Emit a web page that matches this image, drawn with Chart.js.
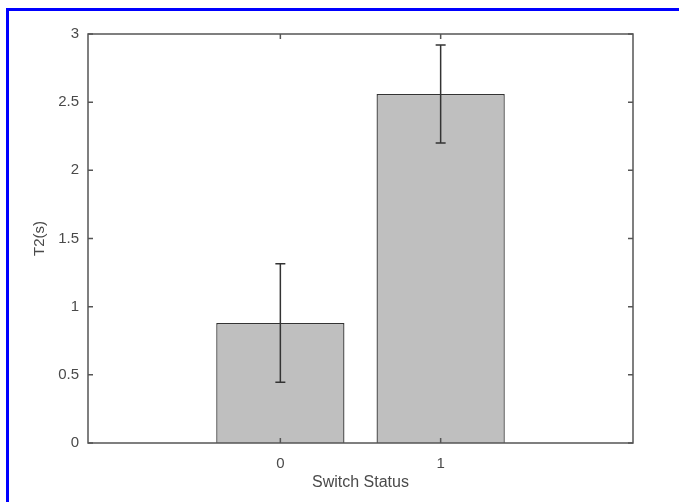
<!DOCTYPE html>
<html>
<head>
<meta charset="utf-8">
<script src="https://cdn.jsdelivr.net/npm/chart.js@4.4.0/dist/chart.umd.min.js"></script>
<style>
	html, body { margin: 0; padding: 0; background: #fff; overflow: hidden; }
	#wrap { position: relative; width: 679px; height: 502px; }
	#frame { position: absolute; left: 6px; top: 8px; right: -10px; bottom: -10px; border-left: 3px solid #0000ff; border-top: 3px solid #0000ff; pointer-events: none; }
	canvas { position: absolute; left: 0; top: 0; }
</style>
</head>
<body>
<div id="wrap">
	<canvas id="chart" width="679" height="502"></canvas>
	<div id="frame"></div>
</div>
<script>
const statuses = [0, 1]
const t2Means = [0.88, 2.56]
const t2Errors = [0.435, 0.36]
const yTicks = [0, 0.5, 1, 1.5, 2, 2.5, 3]

const axisColor = '#555'
const textColor = '#4a4a4a'

// error bars + axis box with inward ticks, like the matlab figure
const matlabStyle = {
	id: 'matlabStyle',
	afterDatasetsDraw(chart) {
		const ctx = chart.ctx
		const x = chart.scales.x
		const y = chart.scales.y
		ctx.save()
		ctx.strokeStyle = '#333'
		ctx.lineWidth = 1.5
		statuses.forEach((s, i) => {
			const px = x.getPixelForValue(s)
			const top = y.getPixelForValue(t2Means[i] + t2Errors[i])
			const bot = y.getPixelForValue(t2Means[i] - t2Errors[i])
			ctx.beginPath()
			ctx.moveTo(px, top)
			ctx.lineTo(px, bot)
			ctx.moveTo(px - 5, top)
			ctx.lineTo(px + 5, top)
			ctx.moveTo(px - 5, bot)
			ctx.lineTo(px + 5, bot)
			ctx.stroke()
		})
		const a = chart.chartArea
		ctx.strokeStyle = axisColor
		ctx.lineWidth = 1.5
		ctx.strokeRect(a.left, a.top, a.right - a.left, a.bottom - a.top)
		ctx.beginPath()
		yTicks.forEach(v => {
			const py = y.getPixelForValue(v)
			ctx.moveTo(a.left, py)
			ctx.lineTo(a.left + 5, py)
			ctx.moveTo(a.right, py)
			ctx.lineTo(a.right - 5, py)
		})
		statuses.forEach(s => {
			const px = x.getPixelForValue(s)
			ctx.moveTo(px, a.top)
			ctx.lineTo(px, a.top + 5)
			ctx.moveTo(px, a.bottom)
			ctx.lineTo(px, a.bottom - 5)
		})
		ctx.stroke()
		ctx.restore()
	}
}

new Chart(document.getElementById('chart'), {
	type: 'bar',
	data: {
		datasets: [{
			data: statuses.map((s, i) => ({ x: s, y: t2Means[i] })),
			backgroundColor: '#bfbfbf',
			borderColor: '#333',
			borderWidth: 1.3,
			barPercentage: 1,
			categoryPercentage: 0.8
		}]
	},
	options: {
		responsive: false,
		animation: false,
		layout: { padding: { top: 34, right: 46, left: 0, bottom: 0 } },
		plugins: { legend: { display: false }, tooltip: { enabled: false } },
		scales: {
			x: {
				type: 'linear',
				offset: false,
				min: -1.2,
				max: 2.2,
				afterBuildTicks: (axis) => { axis.ticks = statuses.map(v => ({ value: v })) },
				afterFit: (axis) => { axis.height = 59 },
				grid: { display: false, drawTicks: false, offset: false },
				border: { display: false },
				ticks: { padding: 12, color: textColor, callback: (v) => String(v), font: { family: 'Liberation Sans', size: 15 } },
				title: { display: true, text: 'Switch Status', color: textColor, padding: { top: 0, bottom: 10 }, font: { family: 'Liberation Sans', size: 16 } }
			},
			y: {
				min: 0,
				max: 3,
				afterBuildTicks: (axis) => { axis.ticks = yTicks.map(v => ({ value: v })) },
				afterFit: (axis) => { axis.width = 88 },
				grid: { display: false, drawTicks: false },
				border: { display: false },
				ticks: { padding: 9, color: textColor, callback: (v) => String(v), font: { family: 'Liberation Sans', size: 15 } },
				title: { display: true, text: 'T2(s)', color: textColor, padding: { top: 31, bottom: 0 }, font: { family: 'Liberation Sans', size: 15 } }
			}
		}
	},
	plugins: [matlabStyle]
})
</script>
</body>
</html>
